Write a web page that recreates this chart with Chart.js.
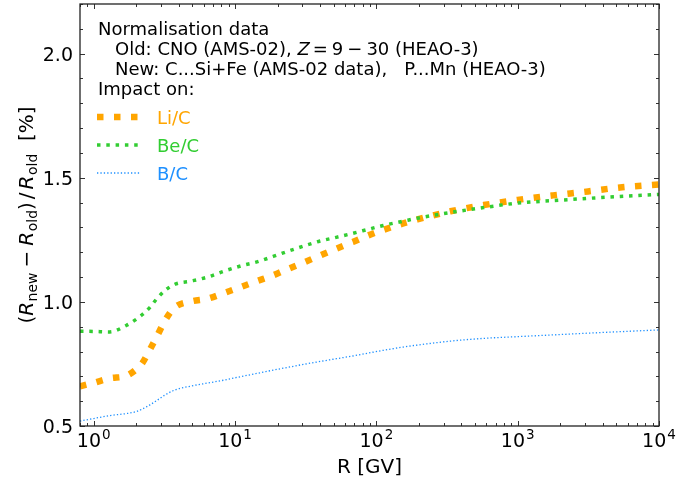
<!DOCTYPE html>
<html>
<head>
<meta charset="utf-8">
<script src="https://cdn.jsdelivr.net/npm/chart.js@4.4.1/dist/chart.umd.min.js"></script>
<style>
  html, body { margin: 0; padding: 0; background: #fff; }
  #wrap { width: 699px; height: 481px; }
</style>
</head>
<body>
<div id="wrap"><canvas id="chart" width="699" height="481"></canvas></div>
<script>
// rigidity grid [GV] and relative change of the ratios [%]
const rigidity = [0.8, 1.0, 1.3, 1.7, 2.0, 2.2, 2.5, 2.8, 3.2, 3.75, 4.9, 6.4, 8.4, 11, 14.3, 18.6, 24, 31, 40, 52, 68, 86, 112, 155, 195, 335, 575, 1000, 1780, 3150, 5300, 10000];
const liC = [0.660, 0.674, 0.692, 0.702, 0.728, 0.752, 0.808, 0.861, 0.925, 0.978, 1.002, 1.013, 1.036, 1.060, 1.084, 1.107, 1.134, 1.160, 1.187, 1.214, 1.241, 1.266, 1.290, 1.316, 1.332, 1.365, 1.390, 1.411, 1.429, 1.445, 1.461, 1.473];
const beC = [0.882, 0.881, 0.879, 0.905, 0.930, 0.948, 0.978, 1.013, 1.046, 1.071, 1.084, 1.100, 1.124, 1.145, 1.161, 1.183, 1.205, 1.226, 1.245, 1.260, 1.276, 1.291, 1.308, 1.325, 1.337, 1.360, 1.380, 1.398, 1.408, 1.417, 1.425, 1.433];
const bC = [0.520, 0.530, 0.542, 0.550, 0.558, 0.568, 0.585, 0.603, 0.625, 0.645, 0.661, 0.673, 0.685, 0.699, 0.712, 0.725, 0.737, 0.749, 0.760, 0.771, 0.782, 0.793, 0.805, 0.818, 0.826, 0.842, 0.853, 0.860, 0.867, 0.874, 0.880, 0.887];

const seriesNames = ['Li/C', 'Be/C', 'B/C'];
const xMajorTicks = [1, 10, 100, 1000, 10000];
const xTickExponents = ['0', '1', '2', '3', '4'];
const yMajorTicks = [0.5, 1.0, 1.5, 2.0];
const yTickLabels = ['0.5', '1.0', '1.5', '2.0'];

const FONT = '"DejaVu Sans"';
const reg = s => s + 'px ' + FONT;
const ita = s => 'italic ' + s + 'px ' + FONT;

const styles = {
    'Li/C': { color: '#FFA500', width: 6.5, dash: [6.5, 10.5] },
    'Be/C': { color: '#32CD32', width: 3.5, dash: [3.5, 5.8] },
    'B/C':  { color: '#1E90FF', width: 1.3, dash: [1.3, 2.1] }
};

function toPoints(ys) {
    return rigidity.map((r, i) => ({ x: r, y: ys[i] }));
}

function runsWidth(ctx, runs) {
    let w = 0;
    runs.forEach(r => { ctx.font = r.font; w += ctx.measureText(r.t).width + (r.gap || 0); });
    return w;
}

function drawRuns(ctx, x, y, runs, color) {
    runs.forEach(r => {
        ctx.font = r.font;
        ctx.fillStyle = r.color || color;
        ctx.fillText(r.t, x, y + (r.dy || 0));
        x += ctx.measureText(r.t).width + (r.gap || 0);
    });
}

const framePlugin = {
    id: 'frame',
    afterDraw(chart) {
        const ctx = chart.ctx;
        const a = chart.chartArea;
        const xs = chart.scales.x, ys = chart.scales.y;
        ctx.save();
        ctx.textBaseline = 'alphabetic';

        // ticks, inward on all four sides
        ctx.strokeStyle = '#333';
        ctx.lineWidth = 1;
        const tick = (x1, y1, x2, y2) => { ctx.beginPath(); ctx.moveTo(x1, y1); ctx.lineTo(x2, y2); ctx.stroke(); };
        for (let d = -1; d <= 4; d++) {
            for (let m = 1; m <= 9; m++) {
                const v = m * Math.pow(10, d);
                if (v < xs.min || v > xs.max) continue;
                const px = Math.round(xs.getPixelForValue(v)) + 0.5;
                const len = m === 1 ? 5 : 3;
                tick(px, a.bottom, px, a.bottom - len);
                tick(px, a.top, px, a.top + len);
            }
        }
        for (let i = 5; i <= 22; i++) {
            const v = i / 10;
            const py = Math.round(ys.getPixelForValue(v)) + 0.5;
            const len = i % 5 === 0 ? 5 : 3;
            tick(a.left, py, a.left + len, py);
            tick(a.right, py, a.right - len, py);
        }

        // frame
        ctx.strokeStyle = '#222';
        ctx.lineWidth = 1.3;
        ctx.strokeRect(a.left, a.top, a.right - a.left, a.bottom - a.top);

        // tick labels
        ctx.fillStyle = '#000';
        ctx.font = reg(19);
        ctx.textAlign = 'right';
        yMajorTicks.forEach((v, i) => {
            ctx.fillText(yTickLabels[i], a.left - 7, ys.getPixelForValue(v) + 7);
        });
        ctx.textAlign = 'left';
        xMajorTicks.forEach((v, i) => {
            const runs = [{ t: '10', font: reg(19), gap: 1 }, { t: xTickExponents[i], font: reg(13.5), dy: -8 }];
            const w = runsWidth(ctx, runs);
            drawRuns(ctx, xs.getPixelForValue(v) - w / 2, 447, runs, '#000');
        });

        // axis titles
        ctx.font = reg(20);
        ctx.textAlign = 'center';
        ctx.fillText('R [GV]', (a.left + a.right) / 2, 473);

        ctx.textAlign = 'left';
        const yl = [
            { t: '(', font: reg(20) },
            { t: 'R', font: ita(20), gap: 0.5 },
            { t: 'new', font: reg(14), dy: 4, gap: 5 },
            { t: '\u2212', font: reg(20), gap: 5 },
            { t: 'R', font: ita(20), gap: 0.5 },
            { t: 'old', font: reg(14), dy: 4 },
            { t: ')', font: reg(20), gap: 3 },
            { t: '/', font: reg(20), gap: 3 },
            { t: 'R', font: ita(20), gap: 0.5 },
            { t: 'old', font: reg(14), dy: 4 },
            { t: '  [%]', font: reg(20) }
        ];
        const ylw = runsWidth(ctx, yl);
        ctx.save();
        ctx.translate(33, (a.top + a.bottom) / 2);
        ctx.rotate(-Math.PI / 2);
        drawRuns(ctx, -ylw / 2, 0, yl, '#000');
        ctx.restore();

        // annotation block
        drawRuns(ctx, 98, 35, [{ t: 'Normalisation data', font: reg(18) }], '#000');
        drawRuns(ctx, 115, 55, [
            { t: 'Old: CNO (AMS-02), ', font: reg(18) },
            { t: 'Z', font: ita(18), gap: 3 },
            { t: '=', font: reg(18), gap: 4 },
            { t: '9', font: reg(18), gap: 4 },
            { t: '\u2212', font: reg(18), gap: 4 },
            { t: '30', font: reg(18) },
            { t: ' (HEAO-3)', font: reg(18) }
        ], '#000');
        drawRuns(ctx, 115, 75, [{ t: 'New: C...Si+Fe (AMS-02 data),   P...Mn (HEAO-3)', font: reg(18) }], '#000');
        drawRuns(ctx, 98, 95, [{ t: 'Impact on:', font: reg(18) }], '#000');

        // legend
        seriesNames.forEach((name, i) => {
            const st = styles[name];
            const y = 117 + i * 28;
            ctx.strokeStyle = st.color;
            ctx.lineWidth = st.width;
            ctx.setLineDash(st.dash);
            ctx.beginPath();
            ctx.moveTo(97, y);
            ctx.lineTo(140, y);
            ctx.stroke();
            ctx.setLineDash([]);
            drawRuns(ctx, 157, y + 7, [{ t: name, font: reg(18) }], st.color);
        });

        ctx.restore();
    }
};

function makeDataset(name, ys) {
    const st = styles[name];
    return {
        label: name,
        data: toPoints(ys),
        borderColor: st.color,
        borderWidth: st.width,
        borderDash: st.dash,
        borderCapStyle: 'butt',
        pointRadius: 0,
        fill: false,
        cubicInterpolationMode: 'monotone'
    };
}

new Chart(document.getElementById('chart'), {
    type: 'line',
    data: {
        // first dataset is drawn on top
        datasets: [makeDataset('B/C', bC), makeDataset('Be/C', beC), makeDataset('Li/C', liC)]
    },
    options: {
        responsive: false,
        animation: false,
        devicePixelRatio: 1,
        layout: { padding: { left: 80, right: 40, top: 4, bottom: 55 } },
        plugins: { legend: { display: false }, tooltip: { enabled: false } },
        scales: {
            x: { type: 'logarithmic', min: 0.8, max: 10000, display: false },
            y: { type: 'linear', min: 0.5, max: 2.2, display: false }
        }
    },
    plugins: [framePlugin]
});
</script>
</body>
</html>
